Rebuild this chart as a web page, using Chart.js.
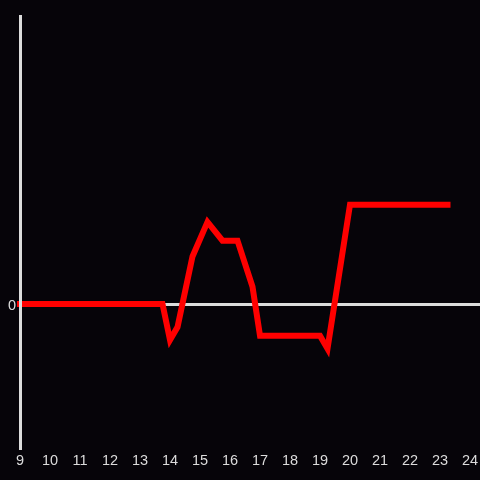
<!DOCTYPE html>
<html>
<head>
<meta charset="UTF-8">
<title>Line chart</title>
<script src="https://cdn.jsdelivr.net/npm/chart.js"></script>
<style>
  html, body { margin: 0; padding: 0; background: #060409; }
  canvas { display: block; }
</style>
</head>
<body>
<canvas id="chart" width="480" height="480"></canvas>
<script>
// hours on the x axis and the value at each hour
const hours = [9, 13.75, 14, 14.25, 14.75, 15.25, 15.75, 16.25, 16.75, 17, 19, 19.25, 20, 23.25];
const values = [0, 0, -0.25, -0.16, 0.33, 0.57, 0.44, 0.44, 0.12, -0.22, -0.22, -0.31, 0.69, 0.69];
const xTicks = [9, 10, 11, 12, 13, 14, 15, 16, 17, 18, 19, 20, 21, 22, 23, 24];
const yTicks = [0];

const axisColor = '#dcdcdc';
const tickFont = { family: 'Liberation Sans', size: 14.5 };

new Chart(document.getElementById('chart'), {
    type: 'line',
    data: {
        datasets: [{
            data: hours.map((h, i) => ({ x: h, y: values[i] })),
            borderColor: '#ff0000',
            borderWidth: 6,
            borderCapStyle: 'square',
            pointRadius: 0,
            tension: 0,
            clip: false
        }]
    },
    options: {
        responsive: false,
        animation: false,
        layout: { padding: { top: 16, right: 0, bottom: 0, left: 0 } },
        plugins: { legend: { display: false }, tooltip: { enabled: false } },
        scales: {
            x: {
                type: 'linear',
                min: 9,
                max: 24.333,
                afterBuildTicks: s => { s.ticks = xTicks.map(v => ({ value: v })); },
                afterFit: s => { s.height = 32; s.paddingLeft = 0; s.paddingRight = 0; },
                grid: { display: false },
                border: { display: false },
                ticks: { color: axisColor, font: tickFont, padding: -4, maxRotation: 0 }
            },
            y: {
                min: -1,
                max: 2,
                afterBuildTicks: s => { s.ticks = yTicks.map(v => ({ value: v })); },
                afterFit: s => { s.width = 20; s.paddingTop = 0; s.paddingBottom = 0; },
                grid: { color: axisColor, lineWidth: 3, drawTicks: false },
                border: { display: true, color: axisColor, width: 3, z: 1 },
                ticks: { color: axisColor, font: tickFont, padding: 4, labelOffset: 2 }
            }
        }
    }
});
</script>
</body>
</html>
